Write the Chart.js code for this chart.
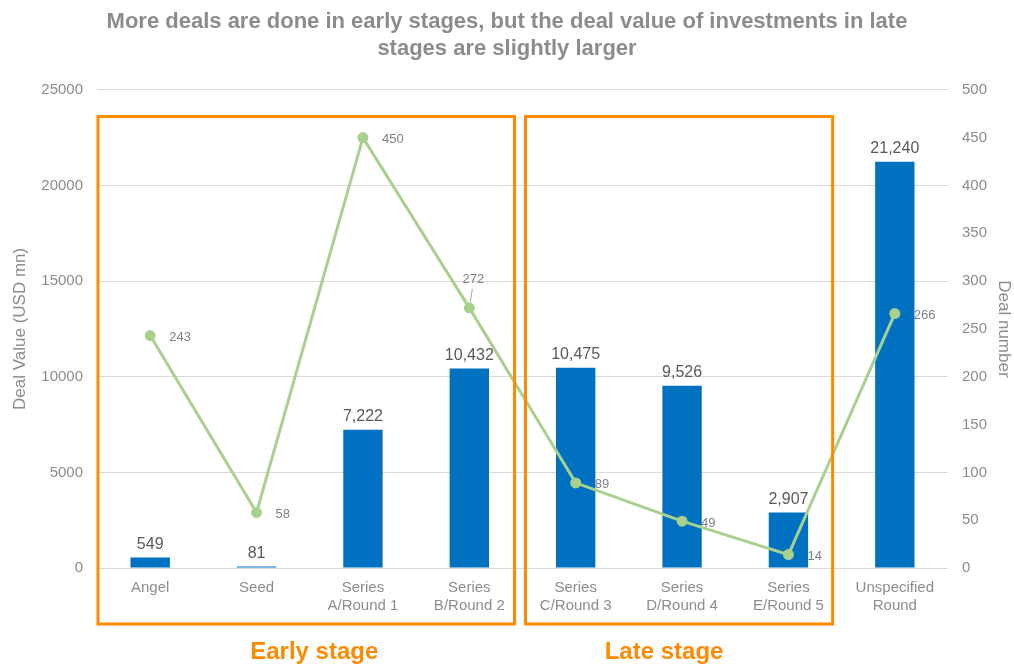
<!DOCTYPE html>
<html>
<head>
<meta charset="utf-8">
<script src="https://cdn.jsdelivr.net/npm/chart.js@4"></script>
<style>
html,body{margin:0;padding:0;background:#fff;}
#wrap{width:1014px;height:664px;position:relative;}
</style>
</head>
<body>
<div id="wrap"><canvas id="c" width="1014" height="664"></canvas></div>
<script>
const categories = [["Angel"],["Seed"],["Series","A/Round 1"],["Series","B/Round 2"],["Series","C/Round 3"],["Series","D/Round 4"],["Series","E/Round 5"],["Unspecified","Round"]];
const dealValue = [549, 81, 7222, 10432, 10475, 9526, 2907, 21240];
const dealNumber = [243, 58, 450, 272, 89, 49, 14, 266];
const leftTicks = [0, 5000, 10000, 15000, 20000, 25000];
const rightTicks = [0, 50, 100, 150, 200, 250, 300, 350, 400, 450, 500];
const titleLines = ["More deals are done in early stages, but the deal value of investments in late", "stages are slightly larger"];
const stageLabels = ["Early stage", "Late stage"];

const GRAY = '#8c8c8c';
const LABEL = '#595959';
const ORANGE = '#FF8A00';
const BLUE = '#0070C0';
const GREEN = '#A9D18E';
const FONT = "'Liberation Sans', Arial, sans-serif";

const overlay = {
  id: 'overlay',
  afterDatasetsDraw(chart) {
    const ctx = chart.ctx;
    const x = chart.scales.x, y = chart.scales.y;
    const ca = chart.chartArea;
    const half = (x.getPixelForValue(1) - x.getPixelForValue(0)) / 2;
    ctx.save();
    // bar labels
    ctx.font = "16px " + FONT;
    ctx.fillStyle = LABEL;
    ctx.textAlign = 'center';
    ctx.textBaseline = 'bottom';
    const barMeta = chart.getDatasetMeta(0);
    dealValue.forEach((v, i) => {
      const el = barMeta.data[i];
      ctx.fillText(v.toLocaleString('en-US'), el.x, el.y - 5);
    });
    // line labels
    ctx.font = "13px " + FONT;
    ctx.fillStyle = '#7f7f7f';
    ctx.textAlign = 'left';
    ctx.textBaseline = 'middle';
    const lineMeta = chart.getDatasetMeta(1);
    dealNumber.forEach((v, i) => {
      const el = lineMeta.data[i];
      if (i === 3) {
        ctx.textAlign = 'center';
        ctx.fillText(String(v), el.x + 4, el.y - 28);
        ctx.strokeStyle = '#a6a6a6';
        ctx.lineWidth = 1;
        ctx.beginPath();
        ctx.moveTo(el.x + 3, el.y - 19);
        ctx.lineTo(el.x + 1, el.y - 6);
        ctx.stroke();
        ctx.textAlign = 'left';
      } else {
        ctx.fillText(String(v), el.x + 19, el.y + 2);
      }
    });
    // stage boxes
    ctx.strokeStyle = ORANGE;
    ctx.lineWidth = 3;
    const top = y.getPixelForValue(23600);
    const bottom = ca.bottom + 56;
    const e1 = x.getPixelForValue(0) - half + 1;
    const e2 = x.getPixelForValue(3) + half - 8;
    const l1 = x.getPixelForValue(4) - half + 3;
    const l2 = x.getPixelForValue(6) + half - 9;
    ctx.strokeRect(e1, top, e2 - e1, bottom - top);
    ctx.strokeRect(l1, top, l2 - l1, bottom - top);
    ctx.font = "bold 24px " + FONT;
    ctx.fillStyle = ORANGE;
    ctx.textAlign = 'center';
    ctx.textBaseline = 'middle';
    ctx.fillText(stageLabels[0], (e1 + e2) / 2 + 8, ca.bottom + 84);
    ctx.fillText(stageLabels[1], (l1 + l2) / 2 - 15, ca.bottom + 84);
    ctx.restore();
  }
};

new Chart(document.getElementById('c'), {
  data: {
    labels: categories,
    datasets: [
      {
        type: 'bar',
        label: 'Deal Value (USD mn)',
        data: dealValue,
        backgroundColor: BLUE,
        yAxisID: 'y',
        barPercentage: 0.74,
        categoryPercentage: 0.5,
        order: 2
      },
      {
        type: 'line',
        label: 'Deal number',
        data: dealNumber,
        borderColor: GREEN,
        backgroundColor: GREEN,
        borderWidth: 3,
        pointRadius: 4,
        pointHoverRadius: 4,
        yAxisID: 'y2',
        tension: 0,
        order: 1
      }
    ]
  },
  options: {
    responsive: false,
    animation: false,
    devicePixelRatio: 1,
    layout: { padding: { top: 0, bottom: 0, left: 0, right: 0 } },
    plugins: {
      legend: { display: false },
      tooltip: { enabled: false },
      title: {
        display: true,
        text: titleLines,
        color: GRAY,
        font: { family: "'Liberation Sans Narrow', 'Liberation Sans', Arial, sans-serif", size: 22, weight: 'bold', lineHeight: 1.2 },
        padding: { top: 9, bottom: 28 }
      }
    },
    scales: {
      x: {
        grid: { display: false, drawTicks: false },
        border: { display: false },
        ticks: { color: GRAY, font: { family: FONT, size: 15, lineHeight: 1.25 }, padding: 10, maxRotation: 0, autoSkip: false },
        afterFit(s) { s.height = 96; }
      },
      y: {
        position: 'left',
        min: 0, max: 25000,
        afterBuildTicks(s) { s.ticks = leftTicks.map(v => ({ value: v })); },
        grid: { color: '#d9d9d9', lineWidth: 1, drawTicks: false },
        border: { display: false },
        ticks: { color: GRAY, font: { family: FONT, size: 15 }, padding: 14, callback: v => String(v) },
        title: { display: true, text: 'Deal Value (USD mn)', color: GRAY, font: { family: FONT, size: 17 }, padding: { top: 10, bottom: 0 } },
        afterFit(s) { s.width = 97; }
      },
      y2: {
        position: 'right',
        min: 0, max: 500,
        afterBuildTicks(s) { s.ticks = rightTicks.map(v => ({ value: v })); },
        grid: { display: false, drawTicks: false },
        border: { display: false },
        ticks: { color: GRAY, font: { family: FONT, size: 15 }, padding: 14, callback: v => String(v) },
        title: { display: true, text: 'Deal number', color: GRAY, font: { family: FONT, size: 17 }, padding: 0 },
        afterFit(s) { s.width = 66; }
      }
    }
  },
  plugins: [overlay]
});
</script>
</body>
</html>
